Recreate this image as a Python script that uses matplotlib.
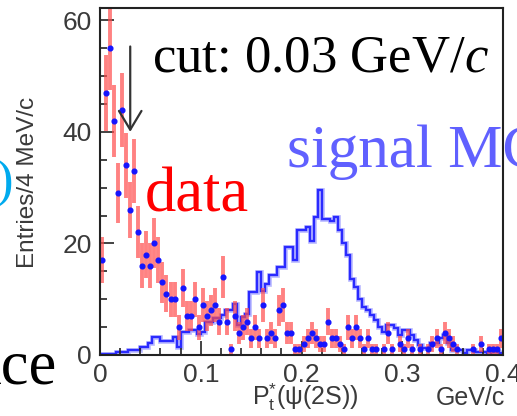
import numpy as np
import matplotlib
matplotlib.use("Agg")
import matplotlib.pyplot as plt

# P_t*(psi(2S)) distribution, 4 MeV/c bins from 0 to 0.4 GeV/c
bin_edges = np.linspace(0.0, 0.4, 101)

data_counts = [
    17, 47, 55, 42, 29, 44, 34, 26, 33, 22,
    16, 18, 16, 20, 17, 13, 11, 10, 10, 5,
    12, 7, 7, 10, 5, 9, 7, 8, 9, 6,
    14, 6, 1, 7, 4, 5, 6, 3, 5, 3,
    9, 3, 4, 3, 8, 9, 4, 4, 1, 1,
    2, 3, 4, 3, 2, 2, 6, 3, 3, 2,
    1, 5, 3, 5, 3, 1, 3, 1, 1, 0,
    1, 4, 1, 0, 2, 1, 3, 1, 0, 1,
    0, 1, 2, 3, 1, 4, 3, 2, 1, 0,
    0, 0, 1, 0, 2, 0, 1, 1, 1, 3,
]

signal_mc = [
    0.2, 0.2, 0.2, 0.2, 0.5, 0.5, 0.5, 0.9, 0.9, 0.9,
    1.5, 1.5, 2.1, 3.3, 3.3, 2.5, 2.5, 2.5, 3.3, 1.5,
    4.2, 4.2, 4.4, 4.4, 3.7, 4.2, 6.0, 6.0, 6.6, 6.6,
    7.2, 8.0, 8.0, 9.2, 5.4, 6.8, 7.4, 11.3, 11.3, 14.9,
    11.5, 12.8, 14.3, 14.3, 15.8, 15.8, 19.4, 19.4, 17.0, 22.4,
    22.4, 23.0, 20.5, 24.7, 29.5, 24.4, 24.4, 24.1, 24.7, 22.4,
    20.0, 17.9, 13.7, 12.2, 10.1, 8.6, 8.0, 7.1, 6.3, 5.0,
    4.2, 5.4, 5.4, 4.8, 3.6, 4.4, 4.4, 3.6, 2.7, 1.8,
    1.2, 1.2, 2.1, 2.1, 3.0, 3.6, 2.1, 0.9, 0.9, 0.9,
    0.3, 0.9, 0.9, 0.6, 0.6, 0.6, 0.05, 0.6, 0.6, 0.3,
]

cut_value = 0.03
x_ticks = [0, 0.1, 0.2, 0.3, 0.4]
x_ticklabels = ["0", "0.1", "0.2", "0.3", "0.4"]
y_ticks = [0, 20, 40, 60]

plt.rcParams["mathtext.fontset"] = "custom"
plt.rcParams["mathtext.rm"] = "Liberation Serif"
plt.rcParams["mathtext.it"] = "Liberation Serif:italic"
plt.rcParams["mathtext.sf"] = "Liberation Sans"

W, H = 517, 416
fig = plt.figure(figsize=(W / 100, H / 100), dpi=100)
ax = fig.add_axes([100 / W, 1 - 355 / H, 403 / W, 347 / H])


def px(x, y):
    """pixel position (from top-left) -> figure fraction"""
    return x / W, 1 - y / H


centers = 0.5 * (bin_edges[:-1] + bin_edges[1:])
counts = np.array(data_counts, dtype=float)
shown = counts > 0

# signal MC histogram
mc = np.array(signal_mc)
ax.stairs(mc, bin_edges, baseline=0, color="#4040ff", lw=3.4, alpha=0.35)
ax.stairs(mc, bin_edges, baseline=0, color="#2a2aff", lw=1.7)

# data points with Poisson errors
ax.errorbar(centers[shown], counts[shown], yerr=np.sqrt(counts[shown]),
            fmt="o", ms=3.4, mfc="#1414ff", mec="#1414ff",
            ecolor=(1.0, 0.3, 0.3, 0.7), elinewidth=2.8, capsize=0)

# cut arrow
ax.annotate("", xy=(cut_value, 40), xytext=(cut_value, 55.3),
            arrowprops=dict(arrowstyle="->,head_length=0.45,head_width=0.27",
                            color="#333333", lw=1.6, mutation_scale=30,
                            shrinkA=0, shrinkB=0))

ax.set_xlim(0, 0.4)
ax.set_ylim(0, 62.2)
ax.set_xticks(x_ticks)
ax.set_xticklabels(x_ticklabels)
ax.set_yticks(y_ticks)
ax.set_xticks(np.arange(0, 0.401, 0.02), minor=True)
ax.set_yticks(np.arange(0, 62, 5), minor=True)
ax.tick_params(which="both", direction="in", top=False, right=False,
               colors="#222222", labelcolor="#3a3a3a", labelsize=19, width=1.2)
ax.tick_params(which="major", length=10, pad=6)
ax.tick_params(which="minor", length=5)
for lab in ax.get_xticklabels() + ax.get_yticklabels():
    lab.set_family("Liberation Sans")
for s in ax.spines.values():
    s.set_linewidth(1.5)
    s.set_color("#222222")

# axis titles
fig.text(*px(28, 182), "Entries/4 MeV/c", rotation=90, ha="center", va="center",
         family="Liberation Sans", fontsize=17.5, color="#3a3a3a")
fig.text(*px(252, 405), r"$\mathsf{P}_{\mathsf{t}}^{\mathsf{*}}$(ψ(2S))", ha="left",
         va="baseline", family="Liberation Sans", fontsize=18, color="#3a3a3a")
fig.text(*px(470, 405), "GeV/c", ha="center", va="baseline",
         family="Liberation Sans", fontsize=18, color="#3a3a3a")

# annotations
fig.text(*px(152, 72), "cut: 0.03 GeV/$c$", ha="left", va="baseline",
         family="Liberation Serif", fontsize=38, color="black")
fig.text(*px(287, 167), "signal MC", ha="left", va="baseline",
         family="Liberation Serif", fontsize=44, color="#6060ff")
fig.text(*px(145, 212), "data", ha="left", va="baseline",
         family="Liberation Serif", fontsize=45, color="#ff0000")
fig.text(*px(13, 184), ")", ha="right", va="center",
         family="Liberation Serif", fontsize=38, color="#00aaee")
fig.text(*px(57, 383), "ace", ha="right", va="baseline",
         family="Liberation Serif", fontsize=45, color="black")

fig.savefig("out.png", dpi=100)
